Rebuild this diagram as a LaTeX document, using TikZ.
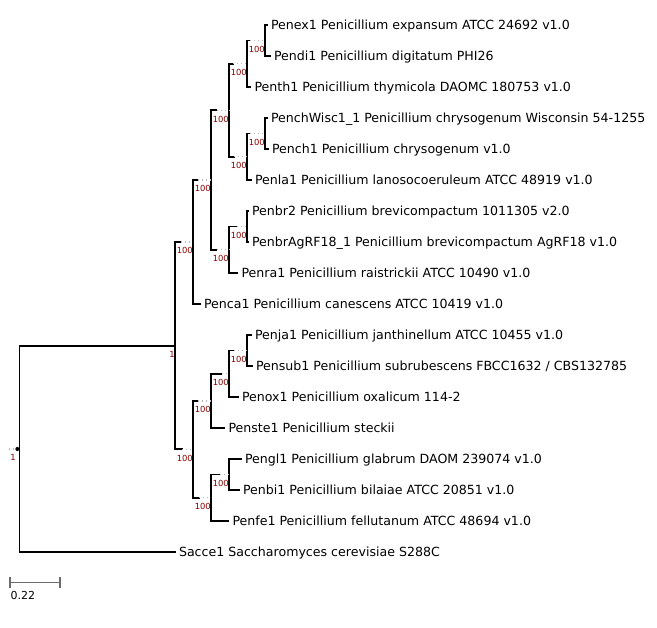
\documentclass[tikz,border=0pt]{standalone}
\usepackage{fontspec}
\setmainfont{DejaVu Sans}
\usepackage{xcolor}
\usepackage{tikz}
\usetikzlibrary{positioning}
\definecolor{suppred}{HTML}{8B0000}
\tikzstyle{branch} = [line width=1.7pt, black, line cap=rect]
\tikzstyle{ext} = [line width=1.3pt, gray!55, dash pattern=on 1.3pt off 2.7pt]
\tikzstyle{leaf} = [anchor=base west, inner sep=0pt, xshift=3.8pt, yshift=-4.5pt, font=\fontsize{12.6}{14}\selectfont]
\tikzstyle{support} = [anchor=base east, inner sep=0pt, yshift=-12pt, text=suppred, font=\fontsize{8.4}{9}\selectfont]
\tikzstyle{scalebar} = [line width=1.5pt, gray!85!black]

\begin{document}
\begin{tikzpicture}[x=1pt, y=-1pt]
\useasboundingbox (0,0) rectangle (657,628);

% internal nodes
\coordinate (root) at (19.5,449);
\coordinate (nH) at (175,346);
\coordinate (nG) at (193,242);
\coordinate (nF) at (211,180);
\coordinate (nD) at (229,110.25);
\coordinate (nB) at (247,63.75);
\coordinate (nA) at (265,40.5);
\coordinate (nC) at (247,156.75);
\coordinate (nC0) at (265,133.5);
\coordinate (nE) at (229,249.75);
\coordinate (nE0) at (247,226.5);
\coordinate (nI) at (193,449.31);
\coordinate (nJ) at (211,400.88);
\coordinate (nL) at (229,373.75);
\coordinate (nM) at (247,350.5);
\coordinate (nK) at (211,497.75);
\coordinate (nN) at (229,474.5);

% leaf tips
\coordinate (lex) at (267,25);
\coordinate (ldi) at (270,56);
\coordinate (lth) at (250.5,87);
\coordinate (lcw) at (267,118);
\coordinate (lch) at (268,149);
\coordinate (lla) at (251,180);
\coordinate (lbr) at (248,211);
\coordinate (lag) at (248,242);
\coordinate (lra) at (237.5,273);
\coordinate (lca) at (200,304);
\coordinate (lja) at (251,335);
\coordinate (lsu) at (252,366);
\coordinate (lox) at (238,397);
\coordinate (lst) at (224.5,428);
\coordinate (lgl) at (241,459);
\coordinate (lbi) at (239,490);
\coordinate (lfe) at (228.5,521);
\coordinate (lsa) at (175,552);

% vertical lines
\draw [branch] (root |- nH) -- (root |- lsa);
\draw [branch] (nH |- nG) -- (nH |- nI);
\draw [branch] (nG |- nF) -- (nG |- lca);
\draw [branch] (nF |- nD) -- (nF |- nE);
\draw [branch] (nD |- nB) -- (nD |- nC);
\draw [branch] (nB |- nA) -- (nB |- lth);
\draw [branch] (nA |- lex) -- (nA |- ldi);
\draw [branch] (nC |- nC0) -- (nC |- lla);
\draw [branch] (nC0 |- lcw) -- (nC0 |- lch);
\draw [branch] (nE |- nE0) -- (nE |- lra);
\draw [branch] (nE0 |- lbr) -- (nE0 |- lag);
\draw [branch] (nI |- nJ) -- (nI |- nK);
\draw [branch] (nJ |- nL) -- (nJ |- lst);
\draw [branch] (nL |- nM) -- (nL |- lox);
\draw [branch] (nM |- lja) -- (nM |- lsu);
\draw [branch] (nK |- nN) -- (nK |- lfe);
\draw [branch] (nN |- lgl) -- (nN |- lbi);

% internal branches, solid part then dotted fill
\draw [branch] (root |- nH) -- (nH);
\draw [branch] (nH |- nG) -- ++(6,0);     \draw [ext] (nH |- nG) ++(6,0) -- (nG);
\draw [branch] (nG |- nF) -- ++(5,0);     \draw [ext] (nG |- nF) ++(5,0) -- (nF);
\draw [branch] (nF |- nD) -- ++(5.5,0);   \draw [ext] (nF |- nD) ++(5.5,0) -- (nD);
\draw [branch] (nD |- nB) -- ++(4,0);     \draw [ext] (nD |- nB) ++(4,0) -- (nB);
\draw [branch] (nB |- nA) -- ++(3,0);     \draw [ext] (nB |- nA) ++(3,0) -- (nA);
\draw [branch] (nD |- nC) -- ++(5,0);     \draw [ext] (nD |- nC) ++(5,0) -- (nC);
\draw [branch] (nC |- nC0) -- ++(3,0);    \draw [ext] (nC |- nC0) ++(3,0) -- (nC0);
\draw [branch] (nF |- nE) -- ++(5.5,0);   \draw [ext] (nF |- nE) ++(5.5,0) -- (nE);
\draw [branch] (nE |- nE0) -- ++(8,0);    \draw [ext] (nE |- nE0) ++(8,0) -- (nE0);
\draw [branch] (nH |- nI) -- ++(7,0);     \draw [ext] (nH |- nI) ++(7,0) -- (nI);
\draw [branch] (nI |- nJ) -- ++(5,0);     \draw [ext] (nI |- nJ) ++(5,0) -- (nJ);
\draw [branch] (nJ |- nL) -- ++(10.5,0);  \draw [ext] (nJ |- nL) ++(10.5,0) -- (nL);
\draw [branch] (nL |- nM) -- ++(5,0);     \draw [ext] (nL |- nM) ++(5,0) -- (nM);
\draw [branch] (nI |- nK) -- ++(6,0);     \draw [ext] (nI |- nK) ++(6,0) -- (nK);
\draw [branch] (nK |- nN) -- ++(9,0);     \draw [ext] (nK |- nN) ++(9,0) -- (nN);

% leaf branches
\foreach \lf/\up in {lex/nA, ldi/nA, lth/nB, lcw/nC0, lch/nC0, lla/nC, lbr/nE0, lag/nE0, lra/nE,
  lca/nG, lja/nM, lsu/nM, lox/nL, lst/nJ, lgl/nN, lbi/nN, lfe/nK, lsa/root}
  \draw [branch] (\up |- \lf) -- (\lf);

% root stub
\draw [ext] (9,449) -- (15,449);
\fill (17.3,449) circle (2pt);
\node (sroot) [support, anchor=base east] at (16,449) {1};

% leaf names
\node (tex) [leaf] at (lex) {Penex1 Penicillium expansum ATCC 24692 v1.0};
\node (tdi) [leaf] at (ldi) {Pendi1 Penicillium digitatum PHI26};
\node (tth) [leaf] at (lth) {Penth1 Penicillium thymicola DAOMC 180753 v1.0};
\node (tcw) [leaf] at (lcw) {PenchWisc1\_1 Penicillium chrysogenum Wisconsin 54-1255};
\node (tch) [leaf] at (lch) {Pench1 Penicillium chrysogenum v1.0};
\node (tla) [leaf] at (lla) {Penla1 Penicillium lanosocoeruleum ATCC 48919 v1.0};
\node (tbr) [leaf] at (lbr) {Penbr2 Penicillium brevicompactum 1011305 v2.0};
\node (tag) [leaf] at (lag) {PenbrAgRF18\_1 Penicillium brevicompactum AgRF18 v1.0};
\node (tra) [leaf] at (lra) {Penra1 Penicillium raistrickii ATCC 10490 v1.0};
\node (tca) [leaf] at (lca) {Penca1 Penicillium canescens ATCC 10419 v1.0};
\node (tja) [leaf] at (lja) {Penja1 Penicillium janthinellum ATCC 10455 v1.0};
\node (tsu) [leaf] at (lsu) {Pensub1 Penicillium subrubescens FBCC1632 / CBS132785};
\node (tox) [leaf] at (lox) {Penox1 Penicillium oxalicum 114-2};
\node (tst) [leaf] at (lst) {Penste1 Penicillium steckii};
\node (tgl) [leaf] at (lgl) {Pengl1 Penicillium glabrum DAOM 239074 v1.0};
\node (tbi) [leaf] at (lbi) {Penbi1 Penicillium bilaiae ATCC 20851 v1.0};
\node (tfe) [leaf] at (lfe) {Penfe1 Penicillium fellutanum ATCC 48694 v1.0};
\node (tsa) [leaf] at (lsa) {Sacce1 Saccharomyces cerevisiae S288C};

% support values
\node (sH) [support] at (nH) {1};
\node (sG) [support] at (nG) {100};
\node (sF) [support] at (nF) {100};
\node (sD) [support] at (nD) {100};
\node (sB) [support] at (nB) {100};
\node (sA) [support] at (nA) {100};
\node (sC) [support] at (nC) {100};
\node (sC0) [support] at (nC0) {100};
\node (sE) [support] at (nE) {100};
\node (sE0) [support] at (nE0) {100};
\node (sI) [support] at (nI) {100};
\node (sJ) [support] at (nJ) {100};
\node (sL) [support] at (nL) {100};
\node (sM) [support] at (nM) {100};
\node (sK) [support] at (nK) {100};
\node (sN) [support] at (nN) {100};

% scale
\coordinate (sc0) at (10,582.5);
\coordinate (sc1) at (60,582.5);
\draw [scalebar] (sc0) -- (sc1);
\draw [scalebar] (sc0) ++(0,-5.5) -- ++(0,11);
\draw [scalebar] (sc1) ++(0,-5.5) -- ++(0,11);
\node (scl) [anchor=base west, inner sep=0pt, font=\fontsize{11}{13}\selectfont] at (10.5,599.5) {0.22};

\end{tikzpicture}
\end{document}
